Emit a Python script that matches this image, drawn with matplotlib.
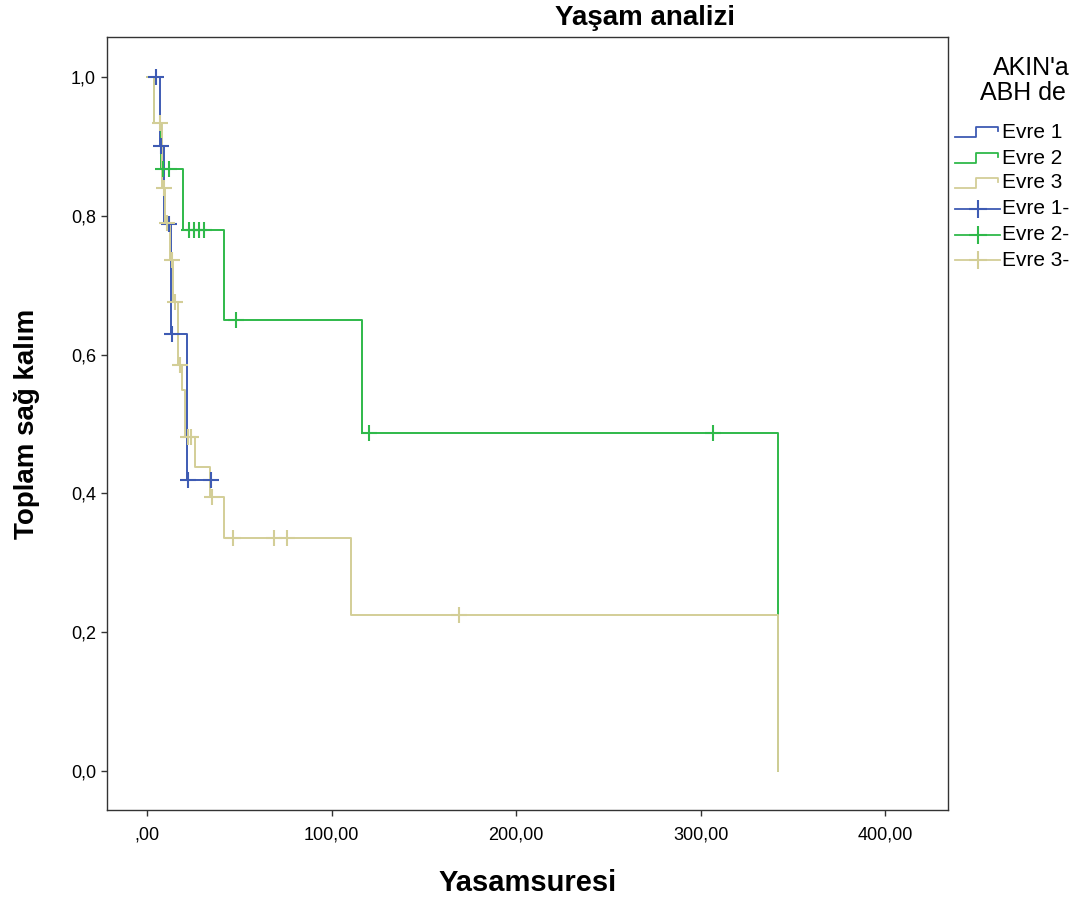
import matplotlib
matplotlib.use("Agg")
import matplotlib.pyplot as plt
from matplotlib.lines import Line2D

plt.rcParams['font.family'] = ['Liberation Sans', 'DejaVu Sans']

# Evre 1 (blue)
t1 = [0, 6.8, 9.2, 13.0, 21.7, 34.7]
s1 = [1.0, 0.90, 0.7875, 0.63, 0.42, 0.42]
c1_t = [4.9, 7.3, 12.0, 13.7, 22.3, 34.7]
c1_s = [1.0, 0.90, 0.7875, 0.63, 0.42, 0.42]

# Evre 2 (green)
t2 = [0, 3.8, 7.6, 19.5, 41.7, 116.4, 342.0]
s2 = [1.0, 0.933, 0.867, 0.78, 0.65, 0.487, 0.0]
c2_t = [8.5, 12.0, 22.8, 25.5, 28.2, 30.9, 48.2, 120.3, 306.8]
c2_s = [0.867, 0.867, 0.78, 0.78, 0.78, 0.78, 0.65, 0.487, 0.487]

# Evre 3 (tan)
t3 = [0, 3.8, 8.0, 10.0, 12.5, 14.3, 16.8, 18.7, 20.6, 26.0, 34.1, 41.7, 110.4, 342.0]
s3 = [1.0, 0.933, 0.84, 0.79, 0.736, 0.676, 0.585, 0.549, 0.481, 0.438, 0.395, 0.336, 0.225, 0.0]
c3_t = [7.0, 9.0, 11.0, 13.5, 15.2, 17.6, 22.2, 23.8, 35.2, 46.6, 68.8, 75.9, 169.1]
c3_s = [0.933, 0.84, 0.79, 0.736, 0.676, 0.585, 0.481, 0.481, 0.395, 0.336, 0.336, 0.336, 0.225]

# legend texts as far as they are visible at the right edge of the picture
legend_title = ["AKIN'a", "ABH de"]
labels = ["Evre 1", "Evre 2", "Evre 3", "Evre 1-", "Evre 2-", "Evre 3-"]
colors = ["#3e5bb3", "#2fb94a", "#d3ce97"]

W, H = 1084, 902
fig = plt.figure(figsize=(W / 100, H / 100), dpi=100)
ax = fig.add_axes([107 / W, 1 - 810 / H, 841 / W, 773 / H])

series = [(t1, s1, c1_t, c1_s), (t2, s2, c2_t, c2_s), (t3, s3, c3_t, c3_s)]
for (t, s, ct, cs), col in zip(series, colors):
    ax.step(t, s, where='post', color=col, lw=1.4, zorder=2)
for (t, s, ct, cs), col in zip(series, colors):
    ax.plot(ct, cs, ls='none', marker='+', ms=11, mew=1.5, color=col, zorder=3)

ax.set_xlim(-21.7, 434.1)
ax.set_ylim(-0.0562, 1.0576)
ax.set_xticks([0, 100, 200, 300, 400])
ax.set_xticklabels([",00", "100,00", "200,00", "300,00", "400,00"])
ax.set_yticks([0, 0.2, 0.4, 0.6, 0.8, 1.0])
ax.set_yticklabels(["0,0", "0,2", "0,4", "0,6", "0,8", "1,0"])
ax.tick_params(direction='out', length=4, width=1, labelsize=13, pad=4, color='#333333')
ax.tick_params(axis='x', pad=8)
for sp in ax.spines.values():
    sp.set_color('#333333')
    sp.set_linewidth(1.0)

ax.set_xlabel("Yasamsuresi", fontsize=21, fontweight='bold', labelpad=18)
ax.set_ylabel("Toplam sağ kalım", fontsize=20, fontweight='bold', labelpad=22)
fig.text(645 / W, 1 - 18 / H, "Yaşam analizi", fontsize=20, fontweight='bold',
         ha='center', va='center')

# legend, drawn by hand at the right edge
fig.text(993 / W, 1 - 68 / H, legend_title[0], fontsize=18, ha='left', va='center')
fig.text(980 / W, 1 - 93 / H, legend_title[1], fontsize=18, ha='left', va='center')
ys = [132, 158, 183, 209, 235, 260]
for i, (lab, y) in enumerate(zip(labels, ys)):
    col = colors[i % 3]
    if i < 3:
        xs = [955, 976, 976, 998, 998]
        yy = [y + 5, y + 5, y - 5, y - 5, y - 1]
        fig.add_artist(Line2D([x / W for x in xs], [1 - v / H for v in yy],
                              color=col, lw=1.3, transform=fig.transFigure))
    else:
        fig.add_artist(Line2D([955 / W, 1000 / W], [1 - y / H, 1 - y / H],
                              color=col, lw=1.3, transform=fig.transFigure))
        fig.add_artist(Line2D([978 / W], [1 - y / H], marker='+', ms=13, mew=1.5,
                              color=col, transform=fig.transFigure))
    fig.text(1002 / W, 1 - y / H, lab, fontsize=15, ha='left', va='center')

fig.savefig("out.png", dpi=100)
